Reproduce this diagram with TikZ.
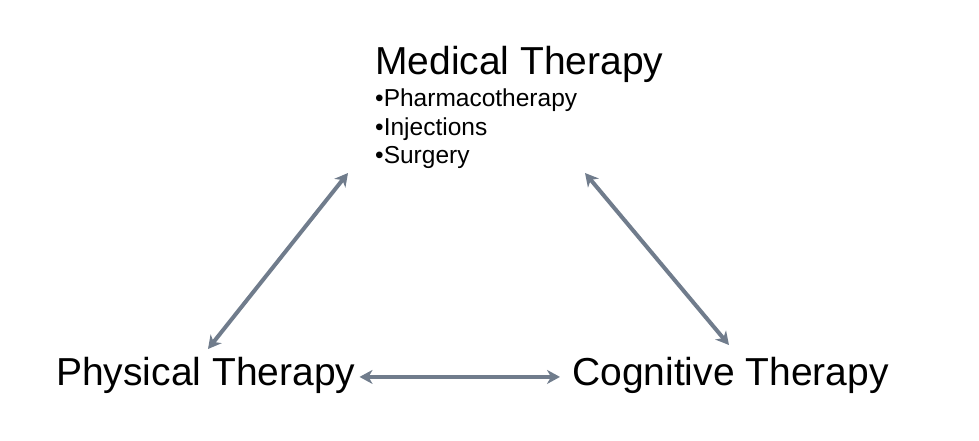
\documentclass[tikz,border=0pt]{standalone}
\usepackage{fontspec}
\setmainfont{Liberation Sans}
\usetikzlibrary{arrows.meta}
\definecolor{linkgray}{RGB}{112,124,140}
\tikzset{
  head/.style={font=\fontsize{39}{41}\selectfont,inner sep=0pt,anchor=base west},
  item/.style={font=\fontsize{24.5}{28}\selectfont,inner sep=0pt,anchor=base west},
  link/.style={linkgray,line width=4pt,{Stealth[length=13pt,width=14pt,inset=4pt]}-{Stealth[length=13pt,width=14pt,inset=4pt]}}
}
\begin{document}
\begin{tikzpicture}[x=1pt,y=-1pt]
  \useasboundingbox (0,0) rectangle (979,440);
  % the three therapies
  \node[head] (med) at (375,74) {Medical Therapy};
  \foreach \t [count=\i] in {Pharmacotherapy,Injections,Surgery}
    \node[item] (it\i) at (375,78.5+28.3*\i) {\textbullet\t};
  \node[head] (phys) at (56,385) {Physical Therapy};
  \node[head] (cog) at (572,385) {Cognitive Therapy};
  % arrow ends
  \coordinate (lowL) at (208,349); \coordinate (topL) at (348,173);
  \coordinate (topR) at (585,173); \coordinate (lowR) at (729,345);
  \draw[link] (lowL) -- (topL);
  \draw[link] (topR) -- (lowR);
  \draw[link,shorten <=4pt,shorten >=12pt] ([yshift=-2pt]phys.east) -- ([yshift=-2pt]cog.west);
\end{tikzpicture}
\end{document}
